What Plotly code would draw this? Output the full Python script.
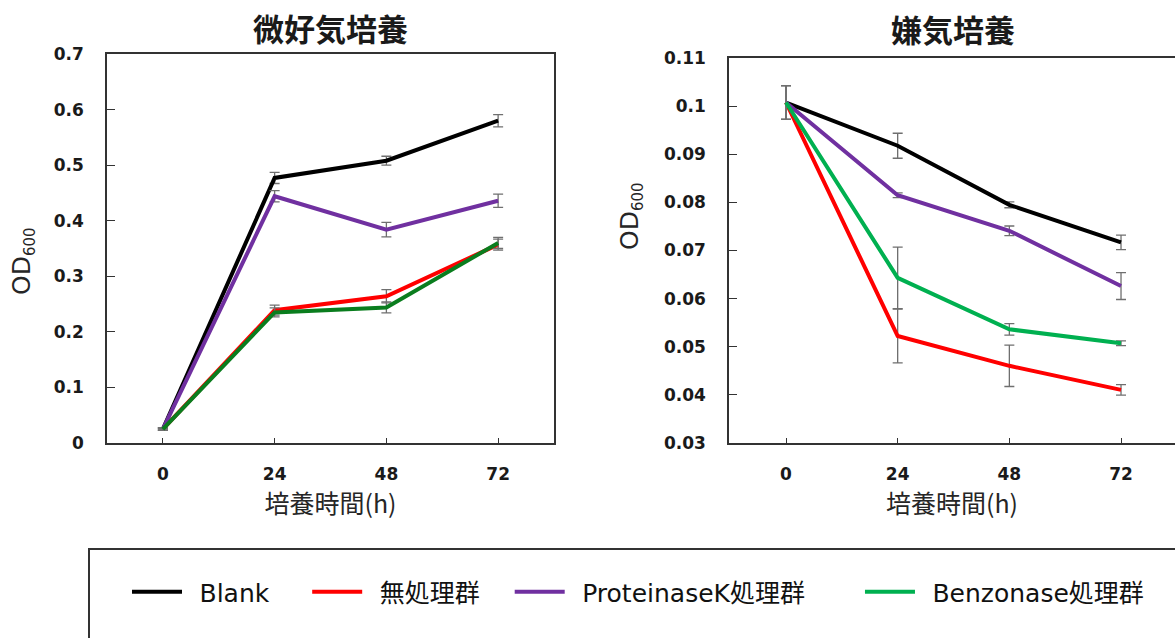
import plotly.graph_objects as go

# ---------------- data ----------------
hours = [0, 24, 48, 72]
hour_labels = ["0", "24", "48", "72"]
series_names = ["Blank", "無処理群", "ProteinaseK処理群", "Benzonase処理群"]

# 微好気培養 (microaerobic)
micro_blank = [0.025, 0.477, 0.508, 0.580]
micro_blank_err = [0.002, 0.010, 0.008, 0.011]
micro_untreated = [0.025, 0.239, 0.264, 0.357]
micro_untreated_err = [0.002, 0.009, 0.012, 0.010]
micro_protk = [0.025, 0.444, 0.384, 0.436]
micro_protk_err = [0.002, 0.010, 0.013, 0.012]
micro_benzo = [0.025, 0.235, 0.244, 0.360]
micro_benzo_err = [0.002, 0.008, 0.010, 0.010]

# 嫌気培養 (anaerobic)
anaer_blank = [0.1008, 0.0918, 0.0795, 0.0717]
anaer_blank_err = [0.0035, 0.0026, 0.0006, 0.0015]
anaer_untreated = [0.1008, 0.0522, 0.0460, 0.0410]
anaer_untreated_err = [0.0035, 0.0056, 0.0043, 0.0011]
anaer_protk = [0.1008, 0.0815, 0.0741, 0.0626]
anaer_protk_err = [0.0035, 0.0005, 0.0010, 0.0028]
anaer_benzo = [0.1008, 0.0643, 0.0536, 0.0507]
anaer_benzo_err = [0.0035, 0.0064, 0.0012, 0.0005]

micro_ticks = [0, 0.1, 0.2, 0.3, 0.4, 0.5, 0.6, 0.7]
micro_ticktext = ["0", "0.1", "0.2", "0.3", "0.4", "0.5", "0.6", "0.7"]
anaer_ticks = [0.03, 0.04, 0.05, 0.06, 0.07, 0.08, 0.09, 0.10, 0.11]
anaer_ticktext = ["0.03", "0.04", "0.05", "0.06", "0.07", "0.08", "0.09", "0.1", "0.11"]

titles = ["微好気培養", "嫌気培養"]
x_title = "培養時間(h)"
y_title = "OD<sub><span style='font-size:15px'>600</span></sub>"

# ---------------- styles ----------------
W, H = 1175, 638
colors_left = ["#000000", "#FF0000", "#7030A0", "#0A7D1E"]
colors_right = ["#000000", "#FF0000", "#7030A0", "#00B050"]
err_color = "#6F6F6F"
axis_color = "#333333"
latin_font = "DejaVu Sans, Noto Sans CJK JP, sans-serif"
cjk_font = "Noto Sans CJK JP, DejaVu Sans, sans-serif"

# spacing around legend labels (layout only): leading / trailing gaps
EN, EM, NB = "\u2002", "\u2003", "\u00a0"
legend_pad_after = [EM + NB, EM, EM + EM, ""]

fig = go.Figure()

left_sets = [(micro_blank, micro_blank_err), (micro_untreated, micro_untreated_err),
             (micro_protk, micro_protk_err), (micro_benzo, micro_benzo_err)]
right_sets = [(anaer_blank, anaer_blank_err), (anaer_untreated, anaer_untreated_err),
              (anaer_protk, anaer_protk_err), (anaer_benzo, anaer_benzo_err)]

for i, (vals, errs) in enumerate(left_sets):
    fig.add_trace(go.Scatter(
        x=hours, y=vals, mode="lines", name=series_names[i],
        legendgroup=series_names[i], showlegend=False,
        line=dict(color=colors_left[i], width=4),
        error_y=dict(type="data", array=errs, visible=True, color=err_color,
                     thickness=1.3, width=5),
        xaxis="x", yaxis="y"))

for i, (vals, errs) in enumerate(right_sets):
    fig.add_trace(go.Scatter(
        x=hours, y=vals, mode="lines", name=EN + series_names[i] + legend_pad_after[i],
        legendgroup=series_names[i], showlegend=True,
        line=dict(color=colors_right[i], width=4),
        error_y=dict(type="data", array=errs, visible=True, color=err_color,
                     thickness=1.3, width=5),
        xaxis="x2", yaxis="y2"))

def px_x(p):
    return p / W

def px_y(p):
    return 1 - p / H

common_x = dict(
    tickmode="array", tickvals=hours, ticktext=hour_labels,
    ticks="inside", ticklen=5, tickcolor=axis_color, tickwidth=1,
    showline=True, linecolor=axis_color, linewidth=1.5, mirror=True,
    showgrid=False, zeroline=False, ticklabelstandoff=15, automargin=False,
    tickfont=dict(family=latin_font, size=17, color="#1a1a1a", weight="bold"),
    title=dict(text=x_title, font=dict(family=cjk_font, size=25, color="#262626"), standoff=12),
)
common_y = dict(
    ticks="inside", ticklen=8, tickcolor=axis_color, tickwidth=1,
    showline=True, linecolor=axis_color, linewidth=1.5,
    showgrid=False, zeroline=False, ticklabelstandoff=18, automargin=False,
    tickfont=dict(family=latin_font, size=17, color="#1a1a1a", weight="bold"),
)

title_font = dict(family=cjk_font, size=31, color="#1a1a1a", weight="bold")
ytitle_font = dict(family=latin_font, size=25, color="#262626")

fig.update_layout(
    width=W, height=H,
    margin=dict(l=0, r=0, t=0, b=0, autoexpand=False),
    paper_bgcolor="white", plot_bgcolor="white",
    xaxis=dict(common_x, domain=[px_x(107), px_x(554)], range=[-12, 84], anchor="y"),
    yaxis=dict(common_y, domain=[px_y(443), px_y(54)], range=[0, 0.7],
               tickmode="array", tickvals=micro_ticks, ticktext=micro_ticktext,
               mirror=True, anchor="x"),
    xaxis2=dict(common_x, domain=[px_x(729), 1.0], range=[-12.25, 83.6], anchor="y2"),
    yaxis2=dict(common_y, domain=[px_y(442.7), px_y(58.3)], range=[0.03, 0.11],
                tickmode="array", tickvals=anaer_ticks, ticktext=anaer_ticktext,
                mirror=False, anchor="x2"),
    showlegend=True,
    legend=dict(orientation="h", x=px_x(127), y=px_y(592), xanchor="left", yanchor="middle",
                font=dict(family=latin_font, size=25, color="#111111"),
                bgcolor="rgba(0,0,0,0)", itemwidth=50, traceorder="normal"),
    annotations=[
        dict(text=titles[0], x=(px_x(107) + px_x(554)) / 2, y=px_y(27), xref="paper", yref="paper",
             showarrow=False, xanchor="center", yanchor="middle", font=title_font),
        dict(text=titles[1], x=(px_x(729) + px_x(1177)) / 2, y=px_y(28), xref="paper", yref="paper",
             showarrow=False, xanchor="center", yanchor="middle", font=title_font),
        dict(text=y_title, x=px_x(23), y=px_y(261), xref="paper", yref="paper",
             showarrow=False, xanchor="center", yanchor="middle", textangle=-90, font=ytitle_font),
        dict(text=y_title, x=px_x(631), y=px_y(216), xref="paper", yref="paper",
             showarrow=False, xanchor="center", yanchor="middle", textangle=-90, font=ytitle_font),
    ],
    shapes=[
        dict(type="rect", xref="paper", yref="paper",
             x0=px_x(89), x1=1.2, y0=-0.3, y1=px_y(549),
             line=dict(color="#333333", width=2), fillcolor="rgba(0,0,0,0)"),
    ],
)

fig.write_html("out.html")
